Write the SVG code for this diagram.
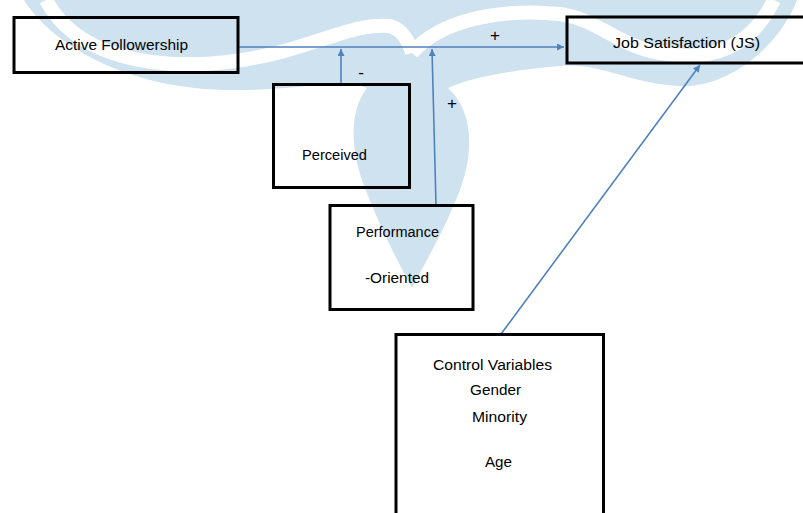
<svg xmlns="http://www.w3.org/2000/svg" width="803" height="513" viewBox="0 0 803 513">
<defs>
<style>
.box{fill:none;stroke:#000;stroke-width:3}
.t{font-family:"Liberation Sans",Arial,sans-serif;font-size:14px;fill:#000}
.s{font-family:"Liberation Sans",Arial,sans-serif;font-size:17px;fill:#000;text-anchor:middle}
.c{stroke:#4f81bd;stroke-width:1.6;fill:none}
.wm{fill:#cfe2ef}
.ws{fill:none;stroke:#fff;stroke-width:14}
</style>
<marker id="ah" viewBox="0 0 10 10" refX="10" refY="5" markerWidth="7" markerHeight="7" markerUnits="userSpaceOnUse" orient="auto">
<path d="M0,0 L10,5 L0,10 Z" fill="#4f81bd"/>
</marker>
</defs>
<rect width="803" height="513" fill="#fff"/>
<g id="watermark">
<path class="wm" d="M24,0 L797,0 C780,45 730,88 680,86 C630,84 600,62 560,66 C510,70 470,78 448,88 C472,110 476,150 458,195 C442,235 422,268 412,288 C400,265 378,225 362,180 C350,145 350,110 367,88 C340,78 300,90 240,90 C130,92 52,45 24,0 Z"/>
<path class="ws" d="M46,0 C75,55 150,72 235,61 C310,51 350,22 390,26 C403,30 409,42 412,53"/>
<path class="ws" d="M774,0 C752,45 715,63 660,53 C615,45 600,20 560,14 C500,8 440,20 412,53"/>
</g>
<g id="connectors">
<line class="c" x1="238" y1="47" x2="564" y2="47" marker-end="url(#ah)"/>
<line class="c" x1="341" y1="84" x2="341" y2="49" marker-end="url(#ah)"/>
<line class="c" x1="436" y1="205" x2="432" y2="49" marker-end="url(#ah)"/>
<line class="c" x1="501" y1="334" x2="700" y2="65" marker-end="url(#ah)"/>
<text class="s" x="495" y="41">+</text>
<text class="s" x="361" y="78">-</text>
<text class="s" x="452" y="109">+</text>
</g>
<g id="active-followership">
<rect class="box" x="14" y="17.5" width="224" height="55"/>
<text class="t" x="55" y="50" textLength="133" lengthAdjust="spacingAndGlyphs">Active  Followership</text>
</g>
<g id="job-satisfaction">
<rect class="box" x="567" y="17" width="250" height="46"/>
<text class="t" x="613" y="48" textLength="147" lengthAdjust="spacingAndGlyphs">Job Satisfaction  (JS)</text>
</g>
<g id="perceived">
<rect class="box" x="273.5" y="84.5" width="136" height="103"/>
<text class="t" x="302" y="160" textLength="65" lengthAdjust="spacingAndGlyphs">Perceived</text>
</g>
<g id="performance">
<rect class="box" x="330" y="205.5" width="143" height="104"/>
<text class="t" x="356" y="237" textLength="83" lengthAdjust="spacingAndGlyphs">Performance</text>
<text class="t" x="365" y="283" textLength="64" lengthAdjust="spacingAndGlyphs">-Oriented</text>
</g>
<g id="control-variables">
<rect class="box" x="396" y="334.5" width="207.5" height="200"/>
<text class="t" x="433" y="370" textLength="119" lengthAdjust="spacingAndGlyphs">Control Variables</text>
<text class="t" x="470" y="395" textLength="51" lengthAdjust="spacingAndGlyphs">Gender</text>
<text class="t" x="472" y="422" textLength="55" lengthAdjust="spacingAndGlyphs">Minority</text>
<text class="t" x="485" y="467" textLength="27" lengthAdjust="spacingAndGlyphs">Age</text>
</g>
</svg>
